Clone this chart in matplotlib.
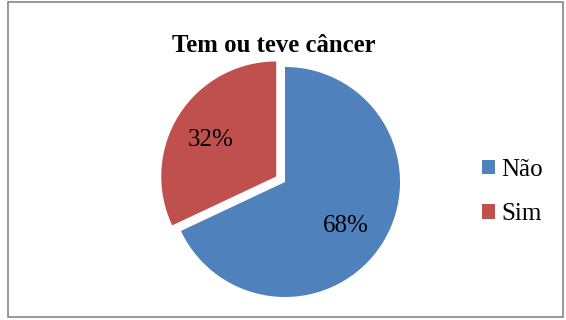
import matplotlib
matplotlib.use("Agg")
import matplotlib.pyplot as plt
from matplotlib.patches import Rectangle
import matplotlib.transforms as mtransforms

labels = ["Não", "Sim"]
values = [68, 32]
colors = ["#4F81BD", "#C0504D"]
explode = [0, 0.09]

plt.rcParams['font.family'] = ['Liberation Serif', 'DejaVu Serif']

fig = plt.figure(figsize=(5.66, 3.2), dpi=100)
fig.patch.set_facecolor("white")
# pie axes: center (285,182), radius 115 px
r = 115
cx, cy = 285, 182
W, H = 566, 320
ax = fig.add_axes([(cx - r) / W, 1 - (cy + r) / H, 2 * r / W, 2 * r / H])
wedges, texts, autotexts = ax.pie(values, colors=colors, explode=explode, startangle=90,
                                  counterclock=False, autopct=lambda p: f"{p:.0f}%",
                                  pctdistance=0.65, radius=1.0,
                                  textprops=dict(fontsize=18, color="black"))
shift = mtransforms.ScaledTranslation(-0.02, -0.04, fig.dpi_scale_trans)
for t in autotexts:
    t.set_transform(t.get_transform() + shift)
ax.set_xlim(-1, 1)
ax.set_ylim(-1, 1)
ax.set_aspect("equal")
ax.axis("off")

fig.text(274 / W, 1 - 45 / H, "Tem ou teve câncer", ha="center", va="center",
         fontsize=17.8, fontweight="bold")

leg = fig.legend(wedges, labels, loc="center left", bbox_to_anchor=(482 / W, 1 - 192 / H),
                 frameon=False, fontsize=18, handlelength=0.52, handleheight=0.52,
                 handletextpad=0.24, labelspacing=0.9, borderpad=0, borderaxespad=0)

fig.patches.append(Rectangle((8 / W, 1 - 317 / H), (563 - 8) / W, (317 - 2) / H,
                             transform=fig.transFigure, fill=False,
                             edgecolor="#868686", linewidth=1.2))

fig.savefig("out.png", dpi=100)
